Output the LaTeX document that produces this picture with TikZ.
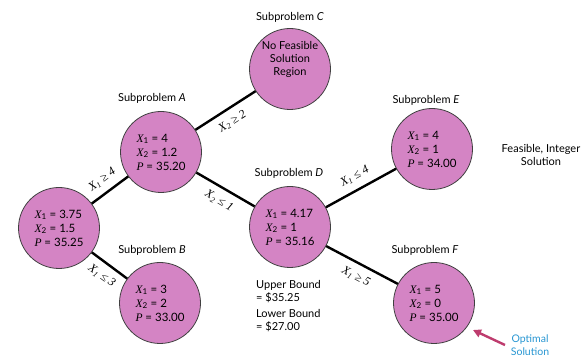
\documentclass[tikz,border=0pt]{standalone}
\usepackage{fontspec}
\setmainfont{Lato}
\newfontfamily\tms{Liberation Serif}
\usetikzlibrary{arrows.meta}
\definecolor{nodefill}{RGB}{212,132,196}
\definecolor{optblue}{RGB}{40,150,210}
\definecolor{arrowred}{RGB}{190,60,110}
\newcommand{\xv}[1]{{\tms\itshape X}\textsubscript{#1}}
\newcommand{\pv}{{\tms\itshape P}}
\tikzset{
  circ/.style={circle, minimum size=81pt, inner sep=0pt, draw=black!75, line width=0.8pt,
    fill=nodefill, align=left, font=\fontsize{11.5}{14}\selectfont},
  edge/.style={line width=2.4pt, black},
  elab/.style={sloped, inner sep=1pt, font=\fontsize{12}{14}\selectfont\tms\itshape},
  sublab/.style={font=\fontsize{11}{13}\selectfont},
  plain/.style={font=\fontsize{11}{13}\selectfont, align=left, inner sep=0pt},
}
\begin{document}
\begin{tikzpicture}[x=1pt, y=-1pt]
\useasboundingbox (0,0) rectangle (584,363);
% circles
\node[circ] (r) at (59,228) {\xv{1} = 3.75\\ \xv{2} = 1.5\\ \pv{} = 35.25};
\node[circ] (a) at (161,152) {\xv{1} = 4\\ \xv{2} = 1.2\\ \pv{} = 35.20};
\node[circ, align=center, font=\fontsize{11}{13}\selectfont] (c) at (290,69) {No Feasible\\ Solution\\ Region\\[8pt]};
\node[circ] (b) at (160,303) {\xv{1} = 3\\ \xv{2} = 2\\ \pv{} = 33.00};
\node[circ] (d) at (290,227) {\xv{1} = 4.17\\ \xv{2} = 1\\ \pv{} = 35.16};
\node[circ] (e) at (432,149) {\xv{1} = 4\\ \xv{2} = 1\\ \pv{} = 34.00};
\node[circ] (f) at (434,303) {\xv{1} = 5\\ \xv{2} = 0\\ \pv{} = 35.00};
% connectors
\draw[edge] (r) -- node[elab, above=6pt] {X\textsubscript{1} ≥ 4} (a);
\draw[edge] (a) -- node[elab, below=6pt] {X\textsubscript{2} ≥ 2} (c);
\draw[edge] (a) -- node[elab, below=6pt] {X\textsubscript{2} ≤ 1} (d);
\draw[edge] (r) -- node[elab, below=6pt] {X\textsubscript{1} ≤ 3} (b);
\draw[edge] (d) -- node[elab, above=6pt] {X\textsubscript{1} ≤ 4} (e);
\draw[edge] (d) -- node[elab, below=6pt] {X\textsubscript{1} ≥ 5} (f);
% subproblem labels
\node[sublab] (lc) at (290,17) {Subproblem \textit{C}};
\node[sublab] (la) at (152,98) {Subproblem \textit{A}};
\node[sublab] (le) at (426,100) {Subproblem \textit{E}};
\node[sublab] (ld) at (289,173) {Subproblem \textit{D}};
\node[sublab] (lb) at (152,250) {Subproblem \textit{B}};
\node[sublab] (lf) at (425,250) {Subproblem \textit{F}};
% notes
\node[sublab, align=center] (feas) at (541,155) {Feasible, Integer\\ Solution};
\node[plain, anchor=north west] (bounds) at (256,280) {Upper Bound\\ = \$35.25\\[3pt] Lower Bound\\ = \$27.00};
\node[sublab, align=center, text=optblue, font=\fontsize{10.5}{13}\selectfont] (opt) at (530,345) {Optimal\\ Solution};
\coordinate (tail) at (505,345);
\coordinate (tip) at (473,330);
\draw[arrowred, line width=2.4pt, -{Triangle[length=8pt, width=8pt]}] (tail) -- (tip);
\end{tikzpicture}
\end{document}
